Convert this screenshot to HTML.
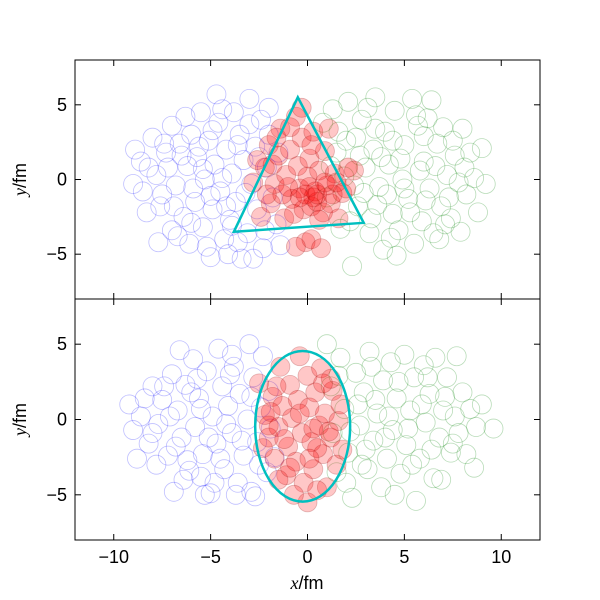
<!DOCTYPE html>
<html><head><meta charset="utf-8">
<style>
body{margin:0;background:#fff;}
svg{display:block;font-family:"Liberation Sans",sans-serif;}
</style></head>
<body>
<svg id="chart" width="600" height="600" xmlns="http://www.w3.org/2000/svg"></svg>
<script>
// Panel 1 data (fm)
const blueTop=[[-9,-0.3],[-8.6,1.2],[-8.3,-2.2],[-8,2.8],[-7.8,0.3],[-7.5,-1],[-7.3,1.8],[-7,3.6],[-7,-3.4],[-6.8,-0.4],[-6.6,2.4],[-6.4,-2.5],[-6.2,0.9],[-6.1,-4.3],[-6,3],[-5.8,-1.5],[-5.7,1.5],[-5.5,4.5],[-5.4,-3.2],[-5.3,0],[-5.1,2.6],[-5,-5.2],[-4.9,-2],[-4.8,1],[-4.7,5.7],[-4.6,3.8],[-4.5,-0.8],[-4.3,-4],[-4.2,2],[-4,-2.7],[-3.9,0.4],[-3.8,4.5],[-3.7,-1.5],[-3.5,3],[-3.4,-5.3],[-3.3,1.3],[-3.1,-3.6],[-3,5.4],[-2.9,-0.3],[-2.7,2.2],[-2.6,-2],[-2.4,4],[-2.3,-4.6],[-2.1,0.8],[-2,3],[-1.8,-1.2],[-1.6,-3],[-1.5,1.8],[-6.9,-1.8],[-7.7,-4.2],[-5.2,-4.5],[-4.1,-5],[-8.9,2],[-6.3,4.2],[-3.6,-4.2],[-2.8,-5.3],[-1.4,-4.4],[-5.9,-0.6],[-7.2,0.8],[-4.4,0.1],[-8.2,0.8],[-7.4,2.4],[-6.5,1.6],[-5.6,2.2],[-5,-1.1],[-4.2,-1.8],[-3.6,2.3],[-3.2,-0.9],[-2.5,1.5],[-6,-2.9],[-7.6,-1.8],[-4.9,3.3],[-3.9,-3.1],[-2.2,-3.4],[-5.4,0.7],[-6.7,-3.8],[-4.4,4.7],[-8.5,-0.8],[-3,3.7],[-2,4.8]];
const greenTop=[[0.8,3.8],[1,-1.2],[1.3,4.7],[1.5,1.8],[1.7,-3.3],[1.9,0.2],[2.1,5.2],[2.3,-5.8],[2.5,2.8],[2.6,-1.8],[2.8,4],[3,0.8],[3.2,-3.6],[3.4,2],[3.5,5.5],[3.7,-0.5],[3.9,-4.7],[4,3.2],[4.2,1],[4.4,-2.3],[4.5,4.6],[4.7,-3.4],[4.9,0],[5,2.3],[5.2,-1.3],[5.4,5.4],[5.5,-4.3],[5.7,3.6],[5.9,-2.8],[6,1.2],[6.2,4.1],[6.3,-0.6],[6.5,-3.6],[6.7,2.4],[6.9,-1.8],[7,3.5],[7.2,0.3],[7.4,-2.6],[7.6,1.6],[7.8,-0.2],[8,3.4],[8.2,-1],[8.4,1.8],[8.6,0.1],[9,2.1],[9.2,-0.3],[2,2.6],[3.3,-2.6],[4.6,-5.1],[6.8,-4],[7.9,-3.5],[5.8,0.6],[3.8,1.5],[2.4,-0.4],[1.2,0.9],[6.4,5.3],[4.1,-1],[8.8,-2.2],[1.6,3.2],[2.2,-2.8],[2.9,-0.9],[3.5,3.4],[4.3,-3.9],[4.8,1.4],[5.3,-2.2],[5.6,4.3],[6.1,-1.4],[6.6,0.9],[7.3,-1.2],[7.5,2.6],[8.1,0.8],[3.1,4.8],[2.7,1.6],[5,-0.6],[3.6,-1.7],[6,2.9],[7.1,-3],[4.4,2.6]];
const redTop=[[-2.4,-2.5],[-2.2,0.8],[-2,2.3],[-1.9,-1.6],[-1.7,-0.3],[-1.5,1.6],[-1.4,3.4],[-1.2,-2.6],[-1.1,0.3],[-0.9,2],[-0.8,-1.3],[-0.6,4.2],[-0.5,0.9],[-0.4,-0.6],[-0.3,2.8],[-0.2,-2],[-0.1,-1],[0,0.2],[0.1,1.4],[0.2,-1.8],[0.3,3.2],[0.4,-0.8],[0.5,-1.5],[0.6,0.6],[0.8,-2.2],[0.9,1.9],[1,-0.4],[1.2,-1.6],[1.4,0.4],[1.6,-2.6],[1.8,-0.9],[2.1,0.8],[2.4,0.6],[-0.1,-4.2],[0.2,-4],[-0.6,-4.5],[0.7,-4.6],[-2.8,-0.2],[-1.3,-1],[0.3,-1.2],[-0.3,4.8],[1.1,3.4],[-2.6,1.3],[0.6,-2.7],[-1.8,1],[-1,-0.5],[-0.7,-2.3],[0.1,-0.5],[0.5,-1],[1.3,-1],[0.9,-0.2],[-0.4,-1.2],[-1.6,2.8],[-2.1,-1],[0.2,2.3],[1.5,-0.2],[-0.9,3.5],[2,-0.6]];
// Panel 2 data (fm)
const blueBot=[[-9.2,1],[-9,-0.7],[-8.6,0.2],[-8.2,-1.6],[-8,2.2],[-7.7,-0.3],[-7.5,1.3],[-7.2,-2.4],[-7,3],[-6.9,-4.8],[-6.7,0.6],[-6.5,-1.2],[-6.3,2.3],[-6.1,-3.4],[-5.9,4],[-5.8,-0.5],[-5.6,1.4],[-5.4,-2.3],[-5.2,3.2],[-5,-4.9],[-4.9,0.2],[-4.7,-1.6],[-4.6,4.7],[-4.4,2.2],[-4.3,-3.3],[-4.1,0.9],[-3.9,-0.9],[-3.8,3.5],[-3.6,-4.2],[-3.5,1.7],[-3.3,-2.4],[-3.1,0],[-3,5],[-2.9,-4.8],[-2.8,2.8],[-2.6,-1.5],[-2.4,0.8],[-2.3,4.2],[-2.1,-3.5],[-2,1.9],[-1.9,-0.6],[-1.7,-2.5],[-7.8,-3],[-6.2,-2.7],[-5.3,-5],[-8.8,-2.6],[-6.6,4.6],[-4.8,-4.2],[-3.7,-5],[-2.7,-5.1],[-5.5,0.7],[-4,3],[-8.4,1.4],[-7.4,2.2],[-6.8,-1.8],[-6,1.8],[-5.1,-1.2],[-4.5,-2.6],[-3.4,-1.4],[-2.5,-3],[-3.9,4.3],[-5.7,2.7],[-7.1,0.2],[-4.2,-0.3],[-2.9,1.5],[-6.4,-4],[-8,-0.9],[-5.5,-3.8]];
const greenBot=[[1,5],[1.2,2.2],[1.3,-0.9],[1.5,-3.5],[1.7,4.1],[1.9,0.7],[2.1,-2.2],[2.3,-5.2],[2.5,3.1],[2.7,-0.4],[2.9,1.8],[3.1,-3.3],[3.2,4.5],[3.4,-1.4],[3.6,0.4],[3.8,-4.5],[3.9,2.6],[4.1,-2.6],[4.3,3.8],[4.4,-0.7],[4.6,1.4],[4.8,-3.6],[5,4.3],[5.1,-1.7],[5.3,0.6],[5.5,2.8],[5.6,-5.4],[5.8,-2.6],[6,3.6],[6.1,-0.2],[6.3,1.7],[6.5,-3.9],[6.6,4.1],[6.8,-1.2],[7,0.6],[7.2,2.8],[7.4,-2.2],[7.6,0.2],[7.8,-0.9],[8,1.8],[8.2,-2.3],[8.4,0.7],[8.7,-0.5],[9,1],[9.6,-0.6],[3,-2],[4.5,-5],[2.6,1],[6.9,-4],[5.4,-3],[7.7,4.2],[8.6,-3.2],[1.6,2.9],[2.2,-0.8],[2.8,-3],[3.5,1.3],[4,-1.2],[4.7,2.5],[5.2,-0.6],[5.9,1],[6.4,-2],[7.1,1.5],[3.3,3.5],[2,-4.2],[6.2,2.8],[4.2,0.2],[7.5,-1.6]];
const redBot=[[-2.5,2.4],[-2.2,0.3],[-2,-1.2],[-1.8,1.5],[-1.7,-2.6],[-1.5,-0.5],[-1.4,3.5],[-1.3,0.9],[-1.1,-3.7],[-1,-1.8],[-0.9,2.3],[-0.8,0.1],[-0.6,-2.8],[-0.5,1.3],[-0.4,4.2],[-0.3,-0.9],[-0.2,-4.2],[0,2.9],[0.1,0.8],[0.2,-1.5],[0.3,-3.3],[0.4,1.8],[0.6,-0.4],[0.7,3.4],[0.8,-2.3],[0.9,0.4],[1,-4.5],[1.2,-1.2],[1.3,1.9],[1.5,-3],[1.6,-0.1],[1.8,-2],[0,-5.5],[0.5,-4.7],[-1.5,-4],[-2.3,-1.9],[-0.7,-5],[1.2,2.7],[-1.9,0.5],[0.3,-0.6],[1.7,1],[-2,-0.4],[-1.2,-1.3],[-0.4,0.4],[0.5,-1.9],[1.1,-0.8],[-0.9,-3.2],[0.1,-2.6],[-1.6,2.2],[0.8,2.4]];
const xTicks=[-10,-5,0,5,10];
const yTicks=[-5,0,5];
const triangle=[[-0.5,5.5],[-3.8,-3.5],[2.9,-2.9]];
const ellipseC=[-0.25,-0.45];
const ellipseR=[2.45,5.0];

const NS="http://www.w3.org/2000/svg";
const svg=document.getElementById('chart');
const L=75,R=540,xmin=-12,xmax=12,ymin=-8,ymax=8;
const panels=[{top:60,bot:299,blue:blueTop,green:greenTop,red:redTop,name:'top'},{top:299,bot:540,blue:blueBot,green:greenBot,red:redBot,name:'bottom'}];
function X(v){return L+(v-xmin)/(xmax-xmin)*(R-L);}
function mk(t,a,p){const e=document.createElementNS(NS,t);for(const k in a)e.setAttribute(k,a[k]);(p||svg).appendChild(e);return e;}
panels.forEach((p,pi)=>{
  const Y=v=>p.bot-(v-ymin)/(ymax-ymin)*(p.bot-p.top);
  const g=mk('g',{});
  
  
  const clip=mk('clipPath',{id:'c'+pi},g);mk('rect',{x:L,y:p.top,width:R-L,height:p.bot-p.top},clip);
  const pts=mk('g',{'clip-path':'url(#c'+pi+')'},g);
  p.blue.forEach(d=>{const c=mk('circle',{cx:X(d[0]),cy:Y(d[1]),r:9.5,fill:'none',stroke:'rgba(0,0,255,0.25)','stroke-width':0.8},pts);
    
    });
  p.green.forEach(d=>{const c=mk('circle',{cx:X(d[0]),cy:Y(d[1]),r:9.5,fill:'none',stroke:'rgba(0,128,0,0.28)','stroke-width':0.8},pts);
    
    });
  p.red.forEach(d=>{const c=mk('circle',{cx:X(d[0]),cy:Y(d[1]),r:9.5,fill:'rgba(255,0,0,0.22)',stroke:'rgba(140,0,0,0.25)','stroke-width':0.8},pts);
    
    });
  if(pi===0){
    const s=mk('polygon',{points:triangle.map(d=>X(d[0])+','+Y(d[1])).join(' '),fill:'none',stroke:'#00bfbf','stroke-width':2.5},pts);
    
    
  } else {
    const s=mk('ellipse',{cx:X(ellipseC[0]),cy:Y(ellipseC[1]),rx:X(ellipseR[0])-X(0),ry:Y(0)-Y(ellipseR[1]),fill:'none',stroke:'#00bfbf','stroke-width':2.5},pts);
    
    
  }
  mk('rect',{x:L,y:p.top,width:R-L,height:p.bot-p.top,fill:'none',stroke:'#000','stroke-width':1},g);
  yTicks.forEach(t=>{const y=Y(t);
    mk('line',{x1:L,x2:L+6,y1:y,y2:y,stroke:'#000'},g);mk('line',{x1:R,x2:R-6,y1:y,y2:y,stroke:'#000'},g);
    const tx=mk('text',{x:L-8,y:y+6,'text-anchor':'end','font-size':18},g);tx.textContent=t<0?'\u2212'+(-t):t;
    
    });
  xTicks.forEach(t=>{const x=X(t);
    mk('line',{x1:x,x2:x,y1:p.bot,y2:p.bot-6,stroke:'#000'},g);mk('line',{x1:x,x2:x,y1:p.top,y2:p.top+6,stroke:'#000'},g);
    if(pi===1){const tx=mk('text',{x:x,y:p.bot+23,'text-anchor':'middle','font-size':18},g);tx.textContent=t<0?'\u2212'+(-t):t;
    
    }});
  const yl=mk('text',{x:0,y:0,transform:'translate(26,'+((p.top+p.bot)/2)+') rotate(-90)','text-anchor':'middle','font-size':18},g);
  yl.innerHTML='<tspan font-family="Liberation Serif" font-style="italic">y</tspan>/fm';
  
  
});
const xl=mk('text',{x:307,y:589,'text-anchor':'middle','font-size':18});
xl.innerHTML='<tspan font-family="Liberation Serif" font-style="italic">x</tspan>/fm';


</script>
</body></html>
